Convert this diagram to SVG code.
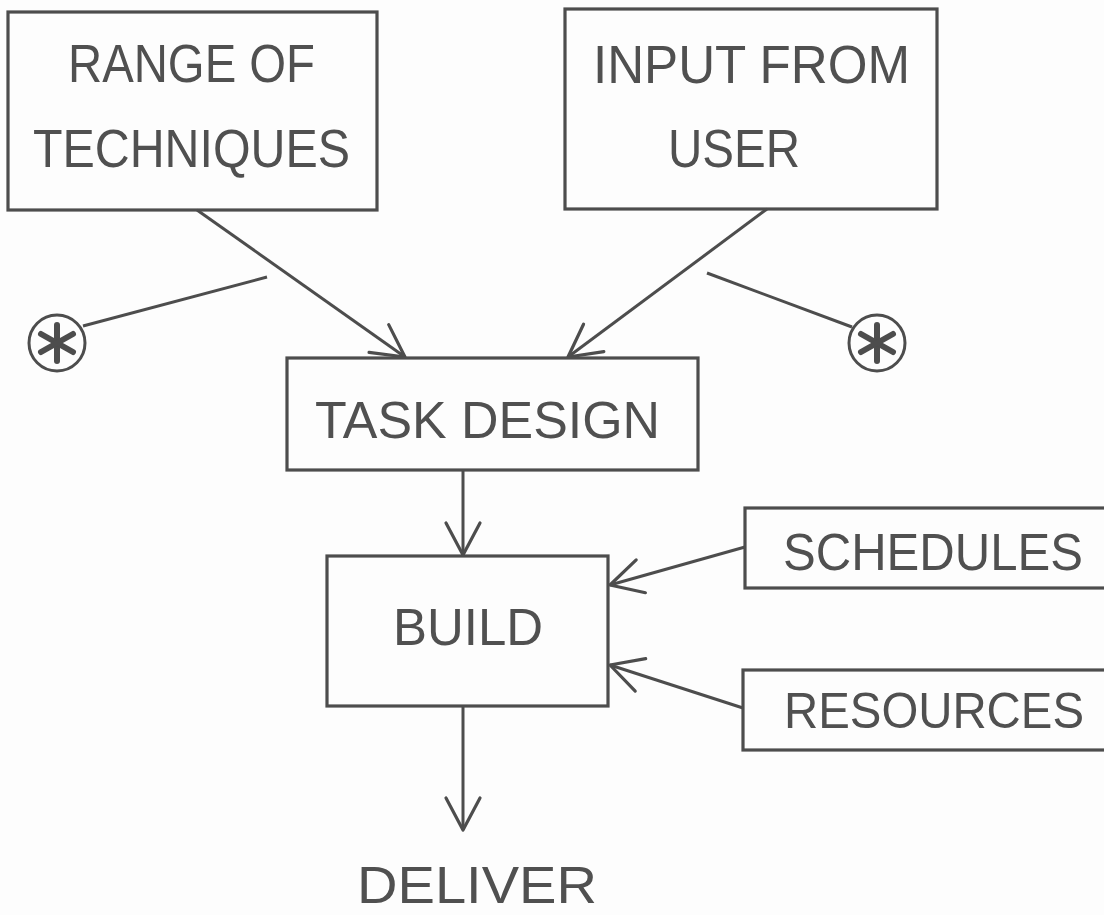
<svg xmlns="http://www.w3.org/2000/svg" width="1104" height="915" viewBox="0 0 1104 915">
<defs>
<marker id="arr" markerUnits="userSpaceOnUse" markerWidth="44" markerHeight="44" viewBox="-38 -22 44 44" refX="0" refY="0" orient="auto">
<path d="M-32,-17 L0,0 L-32,17" fill="none" stroke="#4d4d4d" stroke-width="3.2" stroke-linecap="round" stroke-linejoin="round"/>
</marker>
<g id="ast">
<circle cx="0" cy="0" r="28" fill="none" stroke="#4d4d4d" stroke-width="3"/>
<g stroke="#4d4d4d" stroke-width="6" stroke-linecap="round">
<line x1="0" y1="-18" x2="0" y2="18"/>
<line x1="-16" y1="-9" x2="16" y2="9"/>
<line x1="-16" y1="9" x2="16" y2="-9"/>
</g>
</g>
</defs>
<style>
.box{fill:none;stroke:#4d4d4d;stroke-width:3.2}
.lbl{font-family:"Liberation Sans",Arial,sans-serif;font-size:52px;fill:#505050;text-anchor:middle}
.big{font-size:54px}
.sm{font-size:50px}
.con{fill:none;stroke:#4d4d4d;stroke-width:3}
</style>
<rect width="1104" height="915" fill="#fdfdfd"/>
<g id="connectors">
<line class="con" x1="197" y1="210" x2="405" y2="357" marker-end="url(#arr)"/>
<line class="con" x1="767" y1="209" x2="568" y2="357" marker-end="url(#arr)"/>
<line class="con" x1="463" y1="470" x2="463" y2="555" marker-end="url(#arr)"/>
<line class="con" x1="463" y1="706" x2="463" y2="830" marker-end="url(#arr)"/>
<line class="con" x1="745" y1="547" x2="610" y2="585" marker-end="url(#arr)"/>
<line class="con" x1="743" y1="708" x2="610" y2="665" marker-end="url(#arr)"/>
<line class="con" x1="83" y1="326" x2="267" y2="277"/>
<line class="con" x1="707" y1="273" x2="852" y2="327"/>
</g>
<g id="range-of-techniques">
<rect class="box" x="8" y="12" width="369" height="198"/>
<text class="lbl big" x="191.5" y="82" textLength="247" lengthAdjust="spacingAndGlyphs">RANGE OF</text>
<text class="lbl big" x="191.5" y="167" textLength="317" lengthAdjust="spacingAndGlyphs">TECHNIQUES</text>
</g>
<g id="input-from-user">
<rect class="box" x="565" y="9" width="372" height="200"/>
<text class="lbl big" x="751.5" y="83" textLength="317" lengthAdjust="spacingAndGlyphs">INPUT FROM</text>
<text class="lbl big" x="734" y="167" textLength="132" lengthAdjust="spacingAndGlyphs">USER</text>
</g>
<g id="ast-left"><use href="#ast" x="57" y="343"/></g>
<g id="ast-right"><use href="#ast" x="877" y="343"/></g>
<g id="task-design">
<rect class="box" x="287" y="358" width="411" height="112"/>
<text class="lbl" x="487.5" y="438" textLength="345" lengthAdjust="spacingAndGlyphs">TASK DESIGN</text>
</g>
<g id="build">
<rect class="box" x="327" y="556" width="281" height="150"/>
<text class="lbl" x="468" y="645" textLength="150" lengthAdjust="spacingAndGlyphs">BUILD</text>
</g>
<g id="schedules">
<rect class="box" x="745" y="508" width="370" height="80"/>
<text class="lbl" x="933" y="570" textLength="300" lengthAdjust="spacingAndGlyphs">SCHEDULES</text>
</g>
<g id="resources">
<rect class="box" x="743" y="670" width="372" height="80"/>
<text class="lbl sm" x="934" y="728" textLength="300" lengthAdjust="spacingAndGlyphs">RESOURCES</text>
</g>
<g id="deliver">
<text class="lbl" x="477" y="903" textLength="240" lengthAdjust="spacingAndGlyphs">DELIVER</text>
</g>
</svg>
